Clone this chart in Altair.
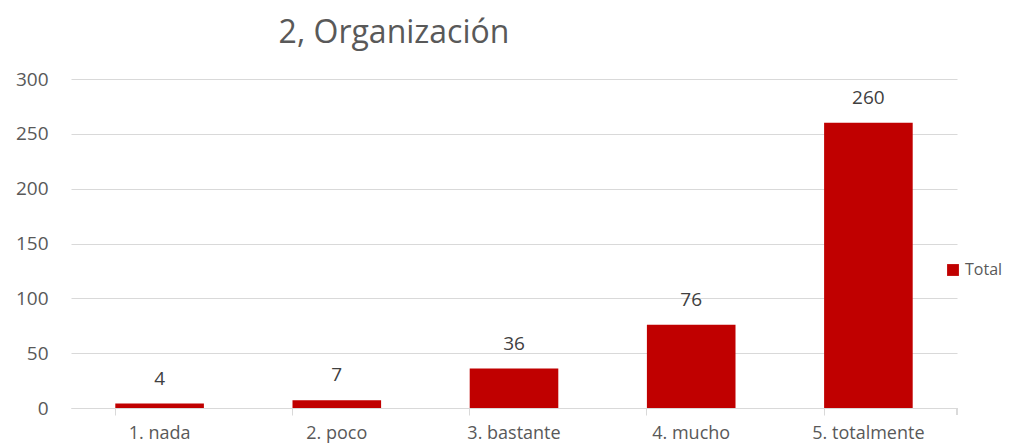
import altair as alt
import pandas as pd

categories = ["1. nada", "2. poco", "3. bastante", "4. mucho", "5. totalmente"]
values = [4, 7, 36, 76, 260]
series = ["Total"] * 5

df = pd.DataFrame({"cat": categories, "val": values, "serie": series})

W, H = 886, 329
FONT = "Open Sans"
base = alt.Chart(df)

bars = base.mark_bar(color="#C00000").encode(
    x=alt.X("cat:N", sort=categories, title=None,
            scale=alt.Scale(paddingInner=0.5, paddingOuter=0.25),
            axis=alt.Axis(labelAngle=0, bandPosition=0, tickSize=7, tickColor="#d9d9d9",
                          domainColor="#d9d9d9", labelFontSize=18, labelColor="#595959",
                          labelFont=FONT, labelPadding=9, grid=False)),
    y=alt.Y("val:Q", title=None,
            scale=alt.Scale(domain=[0, 300]),
            axis=alt.Axis(values=[0, 50, 100, 150, 200, 250, 300], domain=False, ticks=False,
                          gridColor="#d9d9d9", labelFontSize=19, labelColor="#595959",
                          labelFont=FONT, labelPadding=23)),
    fill=alt.Fill("serie:N", scale=alt.Scale(range=["#C00000"]),
                  legend=alt.Legend(title=None, orient="none", legendX=874, legendY=183,
                                    symbolType="square", symbolSize=140, labelFontSize=16,
                                    labelColor="#595959", labelFont=FONT, labelOffset=4)),
)

labels = base.mark_text(baseline="alphabetic", dy=-19, fontSize=19, color="#404040",
                        font=FONT).encode(
    x=alt.X("cat:N", sort=categories),
    y=alt.Y("val:Q"),
    text=alt.Text("val:Q"),
)

endtick = base.mark_rule(color="#d9d9d9").encode(
    x=alt.value(W), y=alt.value(H), y2=alt.value(H + 7)
)

chart = alt.layer(bars, labels, endtick).properties(
    width=W, height=H,
    title=alt.Title("2, Organización", fontSize=32, font=FONT, fontWeight="normal",
                    color="#595959", anchor="middle", dx=-120, offset=20),
    autosize=alt.AutoSizeParams(type="none"),
    padding={"left": 63, "top": 71, "right": 51, "bottom": 38},
).configure_view(stroke=None)

chart.save("out.html", embed_options={"renderer": "svg", "actions": False})
